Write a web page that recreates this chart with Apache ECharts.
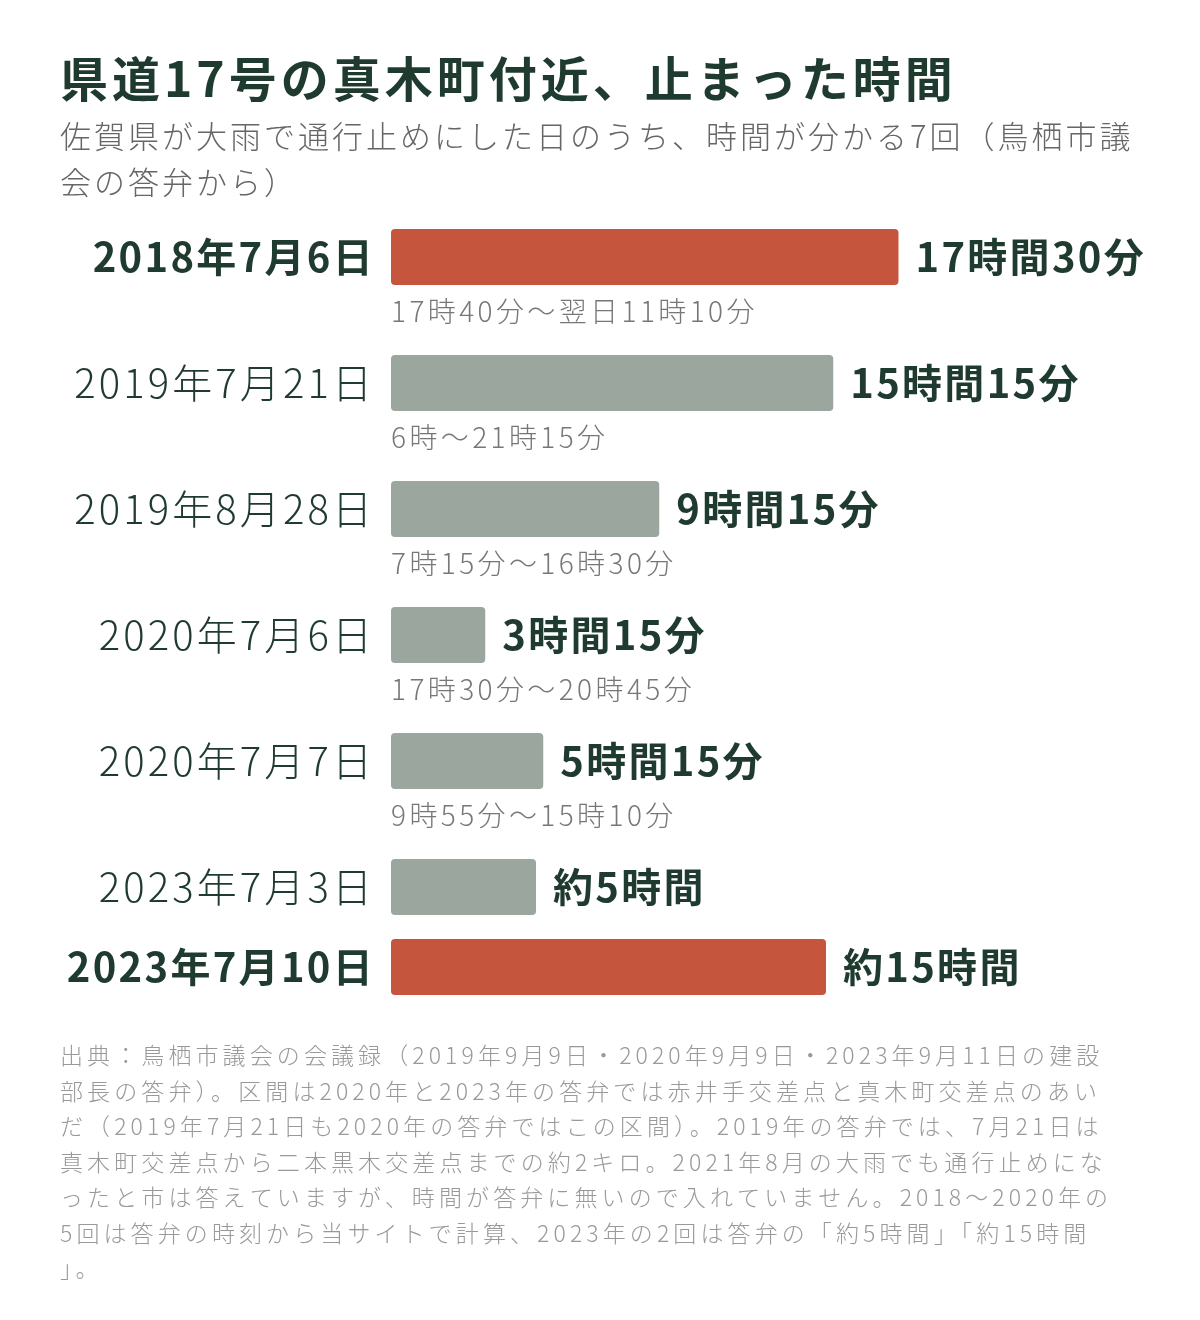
<!DOCTYPE html>
<html><head><meta charset="utf-8">
<script src="https://cdn.jsdelivr.net/npm/echarts@6/dist/echarts.min.js"></script>
<style>html,body{margin:0;padding:0;background:#fff}#c{width:1200px;height:1320px}</style>
</head><body><div id="c"></div>
<script>
const titleText = '県道17号の真木町付近、止まった時間';
const subtitleText = '佐賀県が大雨で通行止めにした日のうち、時間が分かる7回（鳥栖市議\n会の答弁から）';
const categories = ['2018年7月6日','2019年7月21日','2019年8月28日','2020年7月6日','2020年7月7日','2023年7月3日','2023年7月10日'];
const hours = [17.5, 15.25, 9.25, 3.25, 5.25, 5, 15];
const durationLabels = ['17時間30分','15時間15分','9時間15分','3時間15分','5時間15分','約5時間','約15時間'];
const timeRanges = ['17時40分〜翌日11時10分','6時〜21時15分','7時15分〜16時30分','17時30分〜20時45分','9時55分〜15時10分','',''];
const highlighted = ['2018年7月6日','2023年7月10日'];
const footnoteText = '出典：鳥栖市議会の会議録（2019年9月9日・2020年9月9日・2023年9月11日の建設\n部長の答弁）。区間は2020年と2023年の答弁では赤井手交差点と真木町交差点のあい\nだ（2019年7月21日も2020年の答弁ではこの区間）。2019年の答弁では、7月21日は\n真木町交差点から二本黒木交差点までの約2キロ。2021年8月の大雨でも通行止めにな\nったと市は答えていますが、時間が答弁に無いので入れていません。2018〜2020年の\n5回は答弁の時刻から当サイトで計算、2023年の2回は答弁の「約5時間」「約15時間\n」。';

const FONT = '"Noto Sans CJK JP", "Noto Sans", sans-serif';
const DARK = '#1f3a2f';
const RED = '#c6553e';
const GRAY = '#9ba69f';

// letter spacing of the reference typography, by font size / weight
function trackingFor(fs, light){
  if (fs >= 46) return 4;
  if (fs >= 38) return light ? 3.1 : 2.3;
  if (fs >= 30) return 3;
  if (fs >= 26) return 3.4;
  return 4.1;
}
(function(){
  const P = CanvasRenderingContext2D.prototype;
  const orig = P.fillText;
  P.fillText = function(t, x, y, mw){
    const f = this.font || '';
    const m = /(\d+(?:\.\d+)?)px/.exec(f);
    const fs = m ? +m[1] : 12;
    const light = /\b300\b/.test(f);
    if ('letterSpacing' in this) this.letterSpacing = trackingFor(fs, light) + 'px';
    const r = mw === undefined ? orig.call(this, t, x, y) : orig.call(this, t, x, y, mw);
    if ('letterSpacing' in this) this.letterSpacing = '0px';
    return r;
  };
})();

const chart = echarts.init(document.getElementById('c'), null, {renderer: 'canvas'});

function isHi(c){ return highlighted.indexOf(c) >= 0; }

function buildGroup(idx0, idx1, gi){
  const cats = categories.slice(idx0, idx1);
  const barData = cats.map((c,i)=>({
    value: hours[idx0+i],
    itemStyle: {color: isHi(c) ? RED : GRAY}
  }));
  const rangeData = cats.map((c,i)=>({value: hours[idx0+i]}));
  return {
    yAxis: {
      type: 'category', gridIndex: gi, data: cats, inverse: true,
      axisLine: {show:false}, axisTick: {show:false}, splitLine:{show:false},
      axisLabel: {
        margin: 16, fontFamily: FONT, color: DARK,
        formatter: v => isHi(v) ? '{b|' + v + '}' : '{n|' + v + '}',
        rich: {
          b: {fontSize: 40, fontWeight: 'bold', color: DARK, fontFamily: FONT},
          n: {fontSize: 40, fontWeight: 300, color: DARK, fontFamily: FONT}
        }
      }
    },
    xAxis: {type:'value', gridIndex: gi, min:0, max:20, show:false},
    series: [
      {
        type:'bar', xAxisIndex: gi, yAxisIndex: gi, data: barData, barWidth: 56,
        itemStyle: {borderRadius: 4},
        label: {
          show: true, position: 'right', distance: 17,
          fontFamily: FONT, fontSize: 40, fontWeight: 'bold', color: DARK,
          formatter: p => durationLabels[idx0 + p.dataIndex]
        },
        silent: true
      },
      {
        type:'bar', xAxisIndex: gi, yAxisIndex: gi, data: rangeData, barWidth: 56, barGap: '-100%',
        itemStyle: {color: 'rgba(0,0,0,0)'},
        label: {
          show: true, position: [0, '100%'], offset: [0, 12], align: 'left', verticalAlign: 'top',
          fontFamily: FONT, fontSize: 28, fontWeight: 300, color: '#777',
          formatter: p => timeRanges[idx0 + p.dataIndex]
        },
        silent: true
      }
    ]
  };
}

const g1 = buildGroup(0, 6, 0);
const g2 = buildGroup(6, 7, 1);

chart.setOption({
  backgroundColor: '#fff',
  animation: false,
  title: [
    {text: titleText, left: 55, top: 50, textStyle: {fontFamily: FONT, fontSize: 48, fontWeight: 'bold', color: DARK}},
    {text: subtitleText, left: 55, top: 108, textStyle: {fontFamily: FONT, fontSize: 31, fontWeight: 300, color: '#666', lineHeight: 46}},
    {text: footnoteText, left: 55, top: 1033, textStyle: {fontFamily: FONT, fontSize: 23, fontWeight: 300, color: '#999', lineHeight: 35.5}}
  ],
  grid: [
    {left: 391, width: 580, top: 194, height: 756},
    {left: 391, width: 580, top: 927, height: 80}
  ],
  xAxis: [g1.xAxis, g2.xAxis],
  yAxis: [g1.yAxis, g2.yAxis],
  series: [...g1.series, ...g2.series]
});
</script></body></html>
